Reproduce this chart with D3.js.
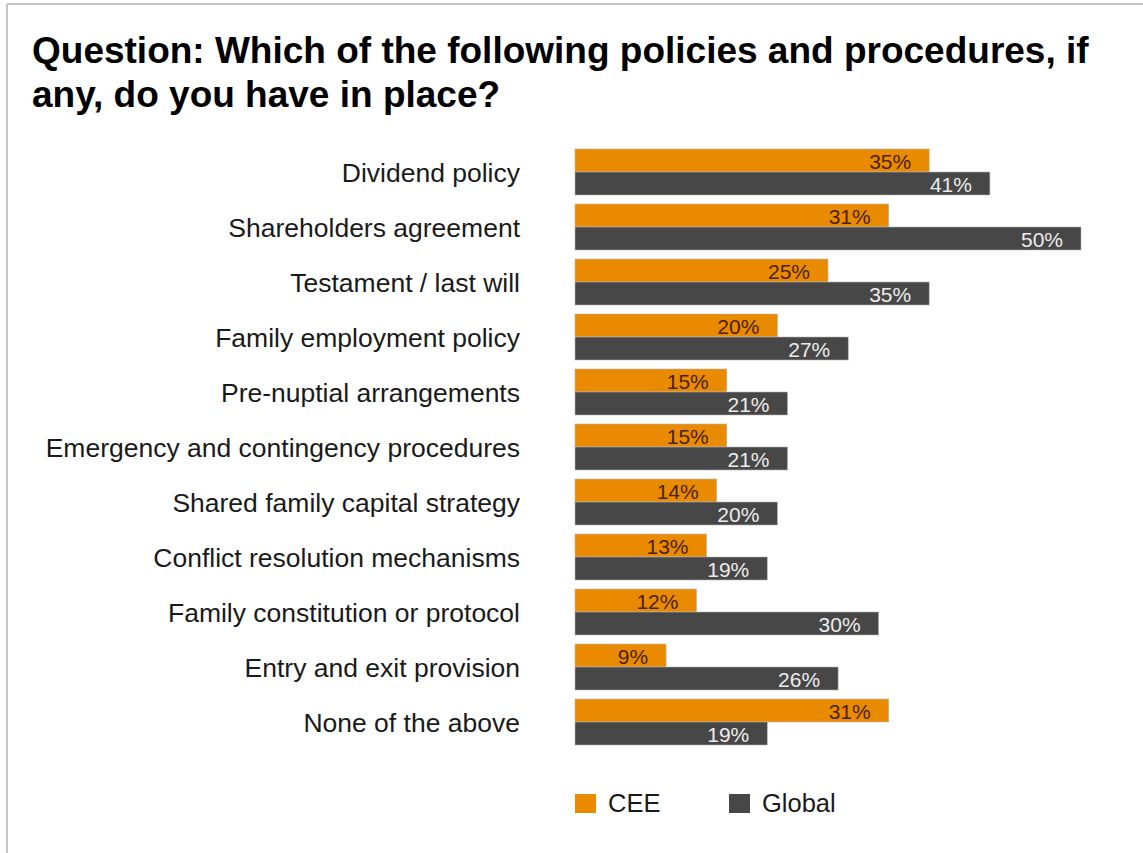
<!DOCTYPE html>
<html>
<head>
<meta charset="utf-8">
<script src="https://cdn.jsdelivr.net/npm/d3@7"></script>
<style>
	body { margin: 0; background: #fff; }
	svg { display: block; font-family: "Liberation Sans", Arial, sans-serif; }
</style>
</head>
<body>
<svg id="chart" width="1143" height="853"></svg>
<script>
let categories = ["Dividend policy", "Shareholders agreement", "Testament / last will", "Family employment policy",
	"Pre-nuptial arrangements", "Emergency and contingency procedures", "Shared family capital strategy",
	"Conflict resolution mechanisms", "Family constitution or protocol", "Entry and exit provision", "None of the above"];

let cee = [35, 31, 25, 20, 15, 15, 14, 13, 12, 9, 31];

let global = [41, 50, 35, 27, 21, 21, 20, 19, 30, 26, 19];

let seriesNames = ["CEE", "Global"];

let titleLines = ["Question: Which of the following policies and procedures, if", "any, do you have in place?"];

let color = d3.scaleOrdinal(seriesNames, ["#E98A00", "#474747"]);
let labelColor = d3.scaleOrdinal(seriesNames, ["#4a2200", "#ececec"]);

let svg = d3.select("#chart");

// frame lines (top and left only)
svg.append("line").attr("x1", 7).attr("x2", 1143).attr("y1", 4).attr("y2", 4).style("stroke", "#c4c4c4").style("stroke-width", 2);
svg.append("line").attr("x1", 7).attr("x2", 7).attr("y1", 4).attr("y2", 853).style("stroke", "#c4c4c4").style("stroke-width", 2);

svg.append("text").attr("x", 32).attr("y", 63).style("font-weight", "bold").style("font-size", "37px").style("fill", "#000")
	.selectAll("tspan").data(titleLines).enter().append("tspan")
	.attr("x", 32).attr("dy", function(d, i) { return i == 0 ? 0 : 44; }).text(function(d) { return d; });

let x = d3.scaleLinear().domain([0, 50]).range([575, 1081]);

let y = d3.scaleBand().domain(categories).range([149, 745]).paddingInner(9 / 55).paddingOuter(0);

let ySub = d3.scaleBand().domain(seriesNames).range([0, y.bandwidth()]);

let rows = categories.map(function(c, i) { return {category: c, values: [{key: "CEE", value: cee[i]}, {key: "Global", value: global[i]}]}; });

let group = svg.selectAll(".row").data(rows).enter().append("g").attr("class", "row")
	.attr("transform", function(d) { return "translate(0," + y(d.category) + ")"; });

group.append("text").attr("x", 520).attr("y", y.bandwidth() / 2 + 10).attr("text-anchor", "end")
	.style("font-size", "26.5px").style("fill", "#1a1a1a").text(function(d) { return d.category; });

let bar = group.selectAll(".bar").data(function(d) { return d.values; }).enter().append("g").attr("class", "bar");

bar.append("rect").attr("x", x(0)).attr("y", function(d) { return ySub(d.key); })
	.attr("width", function(d) { return x(d.value) - x(0); }).attr("height", ySub.bandwidth())
	.style("fill", function(d) { return color(d.key); }).style("stroke", "#b5b5b5").style("stroke-width", 0.6);

bar.append("text").attr("x", function(d) { return x(d.value) - 18; })
	.attr("y", function(d) { return ySub(d.key) + ySub.bandwidth() - 3.5; }).attr("text-anchor", "end")
	.style("font-size", "21px").style("fill", function(d) { return labelColor(d.key); })
	.text(function(d) { return d.value + "%"; });

let legend = svg.selectAll(".legend").data(seriesNames).enter().append("g").attr("class", "legend")
	.attr("transform", function(d, i) { return "translate(" + (575 + i * 154) + ",794)"; });

legend.append("rect").attr("width", 21).attr("height", 19).style("fill", function(d) { return color(d); });

legend.append("text").attr("x", 33).attr("y", 18).style("font-size", "25.5px").style("fill", "#1a1a1a").text(function(d) { return d; });
</script>
</body>
</html>
